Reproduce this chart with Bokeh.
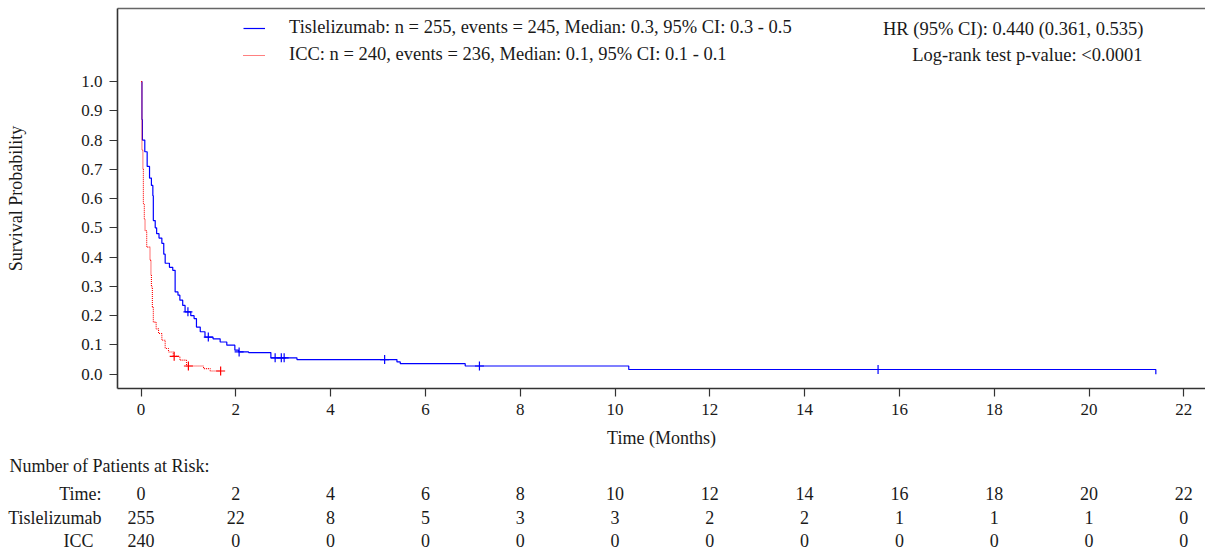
from bokeh.plotting import figure
from bokeh.layouts import column
from bokeh.models import (Range1d, FixedTicker, LinearAxis, Legend, LegendItem,
                          Label, PrintfTickFormatter)
from bokeh.core.properties import value
from bokeh.embed import file_html
from bokeh.resources import INLINE

# ---------------- data ----------------
tisl_time = [0.0, 0.02, 0.03, 0.08, 0.13, 0.18, 0.22, 0.25, 0.26, 0.30, 0.33, 0.38,
             0.44, 0.48, 0.51, 0.60, 0.67, 0.72, 0.78, 0.82, 0.88, 0.93, 1.05, 1.12,
             1.17, 1.25, 1.35, 1.52, 1.67, 1.81, 1.98, 2.06, 2.27, 2.74, 3.29, 5.40,
             5.47, 6.84, 10.29, 21.41]
tisl_surv = [1.0, 0.87, 0.80, 0.76, 0.71, 0.67, 0.645, 0.61, 0.525, 0.50, 0.48, 0.465,
             0.447, 0.41, 0.379, 0.365, 0.355, 0.281, 0.27, 0.253, 0.235, 0.213, 0.20, 0.19,
             0.161, 0.145, 0.127, 0.121, 0.110, 0.099, 0.082, 0.076, 0.074, 0.056, 0.050, 0.042,
             0.036, 0.028, 0.016, 0.0]
tisl_cens_time = [0.99, 1.42, 2.07, 2.83, 2.96, 3.02, 5.14, 7.14, 15.55]
tisl_cens_surv = [0.213, 0.127, 0.076, 0.056, 0.056, 0.056, 0.050, 0.028, 0.016]

icc_time = [0.0, 0.02, 0.04, 0.05, 0.07, 0.085, 0.12, 0.19, 0.21, 0.22, 0.24, 0.26,
            0.32, 0.37, 0.44, 0.51, 0.58, 0.68, 0.82, 0.96, 1.32, 1.46, 1.68]
icc_surv = [1.0, 0.765, 0.70, 0.583, 0.53, 0.49, 0.434, 0.389, 0.34, 0.298, 0.23, 0.178,
            0.155, 0.139, 0.116, 0.088, 0.076, 0.061, 0.048, 0.028, 0.019, 0.011, 0.011]
icc_cens_time = [0.70, 1.00, 1.68]
icc_cens_surv = [0.061, 0.028, 0.011]

risk_times = [0, 2, 4, 6, 8, 10, 12, 14, 16, 18, 20, 22]
risk_tisl = [255, 22, 8, 5, 3, 3, 2, 2, 1, 1, 1, 0]
risk_icc = [240, 0, 0, 0, 0, 0, 0, 0, 0, 0, 0, 0]

x_ticks = [0, 2, 4, 6, 8, 10, 12, 14, 16, 18, 20, 22]
y_ticks = [0.0, 0.1, 0.2, 0.3, 0.4, 0.5, 0.6, 0.7, 0.8, 0.9, 1.0]

legend_tisl = "Tislelizumab: n = 255, events = 245, Median: 0.3, 95% CI: 0.3 - 0.5"
legend_icc = "ICC: n = 240, events = 236, Median: 0.1, 95% CI: 0.1 - 0.1"
hr_text = "HR (95% CI): 0.440 (0.361, 0.535)"
pval_text = "Log-rank test p-value: <0.0001"
x_label = "Time (Months)"
y_label = "Survival Probability"
risk_title = "Number of Patients at Risk:"
row_labels = ["Time:", "Tislelizumab", "ICC"]

# ---------------- layout / style ----------------
FONT = "Liberation Serif"
FS = "18px"
LEG_FS = "18.5px"
TICK_FS = "17px"
TXT = "#1a1a1a"
AX = "#333333"
BLUE = "#0000ff"
RED = "#ff0000"

W = 1205
MAIN_H, TABLE_H = 455, 95
LEFT, TOP = 117, 8
FRAME_H = 380
PX_PER_X = 47.4          # pixels per month
X0_PX = 140.5            # page x of time 0
PX_PER_Y = 292.7         # pixels per unit survival
Y0_PX = 373.7            # page y of survival 0

XMIN = (LEFT - X0_PX) / PX_PER_X
XMAX = (W - X0_PX) / PX_PER_X
YMAX = (Y0_PX - TOP) / PX_PER_Y
YMIN = (Y0_PX - (TOP + FRAME_H)) / PX_PER_Y


def dx(px):
    """page x pixel -> data x (for placing annotations)"""
    return (px - X0_PX) / PX_PER_X


def dy(py):
    """page y pixel -> data y (for placing annotations)"""
    return (Y0_PX - py) / PX_PER_Y


p = figure(width=W, height=MAIN_H, x_range=Range1d(XMIN, XMAX),
           y_range=Range1d(YMIN, YMAX), output_backend="svg", toolbar_location=None,
           min_border_left=LEFT, min_border_right=0, min_border_top=TOP,
           min_border_bottom=MAIN_H - TOP - FRAME_H, frame_align=False)
p.outline_line_color = None
p.grid.visible = False

for ax in (p.xaxis[0], p.yaxis[0]):
    ax.axis_line_color = AX
    ax.axis_line_width = 1.6
    ax.major_tick_line_color = AX
    ax.major_tick_line_width = 1.2
    ax.major_tick_in = 0
    ax.major_tick_out = 8
    ax.minor_tick_line_color = None
    ax.major_label_text_font = FONT
    ax.major_label_text_font_size = TICK_FS
    ax.major_label_text_color = TXT
    ax.axis_label_text_font = FONT
    ax.axis_label_text_font_size = FS
    ax.axis_label_text_font_style = "normal"
    ax.axis_label_text_color = TXT

p.xaxis[0].ticker = FixedTicker(ticks=x_ticks)
p.xaxis[0].axis_label = x_label
p.xaxis[0].major_label_standoff = 7
p.xaxis[0].axis_label_standoff = 10
p.yaxis[0].ticker = FixedTicker(ticks=y_ticks)
p.yaxis[0].formatter = PrintfTickFormatter(format="%.1f")
p.yaxis[0].axis_label = y_label
p.yaxis[0].major_label_standoff = 7
p.yaxis[0].axis_label_standoff = 52

top_axis = LinearAxis(ticker=FixedTicker(ticks=[]), axis_line_color="#666666",
                      axis_line_width=1.6, major_tick_line_color=None,
                      minor_tick_line_color=None, major_label_text_font_size="0px",
                      major_label_standoff=0, major_tick_out=0, major_tick_in=0)
p.add_layout(top_axis, "above")

r_tisl = p.step(tisl_time, tisl_surv, mode="after", line_color=BLUE, line_width=1.2)
r_icc = p.step(icc_time, icc_surv, mode="after", line_color=RED, line_width=1.1,
               line_dash="1 1")
p.scatter(tisl_cens_time, tisl_cens_surv, marker="cross", size=9,
          line_color=BLUE, line_width=1.2)
p.scatter(icc_cens_time, icc_cens_surv, marker="cross", size=9,
          line_color=RED, line_width=1.2)

legend = Legend(items=[LegendItem(label=legend_tisl, renderers=[r_tisl]),
                       LegendItem(label=legend_icc, renderers=[r_icc])],
                location=(126, FRAME_H - 57), orientation="vertical",
                glyph_width=22, glyph_height=20, label_height=20, label_standoff=24,
                spacing=6, padding=0, margin=0, border_line_color=None,
                background_fill_alpha=0, label_text_font=FONT,
                label_text_font_size=LEG_FS, label_text_color=TXT)
p.add_layout(legend)

p.add_layout(Label(x=dx(1143), y=dy(28), text=hr_text, text_align="right",
                   text_baseline="middle", text_font=FONT, text_font_size=LEG_FS,
                   text_color=TXT))
p.add_layout(Label(x=dx(1142), y=dy(54), text=pval_text, text_align="right",
                   text_baseline="middle", text_font=FONT, text_font_size=LEG_FS,
                   text_color=TXT))

# ---------------- risk table: a second figure whose frame spans its whole area ----------------
t = figure(width=W, height=TABLE_H, x_range=Range1d(dx(0), dx(W)),
           y_range=Range1d(MAIN_H + TABLE_H, MAIN_H), output_backend="svg",
           toolbar_location=None, min_border=0, x_axis_location=None,
           y_axis_location=None, frame_align=False)
t.outline_line_color = None
t.grid.visible = False

row_py = [493, 517, 540]
label_right_px = [101, 101, 93]
t.text(x=[dx(9)], y=[465], text=[risk_title], text_align="left",
       text_baseline="middle", text_font=value(FONT), text_font_size=FS, text_color=TXT)
t.text(x=[dx(px) for px in label_right_px], y=row_py, text=row_labels,
       text_align="right", text_baseline="middle", text_font=value(FONT),
       text_font_size=FS, text_color=TXT)
for py, vals in zip(row_py, [risk_times, risk_tisl, risk_icc]):
    t.text(x=risk_times, y=[py] * len(risk_times), text=[str(v) for v in vals],
           text_align="center", text_baseline="middle", text_font=value(FONT),
           text_font_size=FS, text_color=TXT)

layout = column(p, t, spacing=0)
open("out.html", "w").write(file_html(layout, INLINE))
